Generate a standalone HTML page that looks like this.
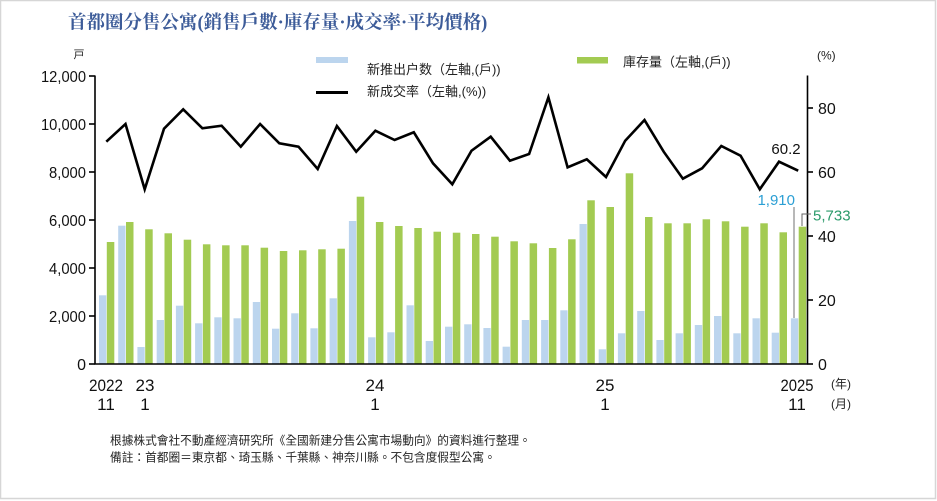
<!DOCTYPE html>
<html><head><meta charset="utf-8"><style>
html,body{margin:0;padding:0;background:#fff;}
body{width:937px;height:501px;overflow:hidden;position:relative;}
svg{position:absolute;left:0;top:0;}
</style></head><body>
<svg width="937" height="501" viewBox="0 0 937 501" xmlns="http://www.w3.org/2000/svg">
<rect x="0.5" y="0.5" width="935" height="498" fill="#fff" stroke="#d6d6d6" stroke-width="1.5"/>
<text x="68" y="28.5" font-family="'Liberation Serif','Noto Serif CJK SC',serif" font-size="18.5" font-weight="bold" fill="#3d5c99">首都圈分售公寓(銷售戶數·庫存量·成交率·平均價格)</text>

<g font-family="'Liberation Sans','Noto Sans CJK TC',sans-serif" font-size="13" fill="#222">
<rect x="316" y="57" width="32" height="6" fill="#bcd5ee"/>
<text x="367" y="74">新推出户数（左軸,(戶))</text>
<line x1="316" y1="92.5" x2="348" y2="92.5" stroke="#000" stroke-width="3"/>
<text x="367" y="96">新成交率（左軸,(%))</text>
<rect x="577" y="57" width="31" height="6.5" fill="#a3cb52"/>
<text x="623" y="66.5">庫存量（左軸,(戶))</text>
<text x="817" y="59.5" font-size="12">(%)</text>
<text x="79" y="58" font-size="11" text-anchor="middle">戸</text>
</g>

<!-- blue bars -->
<g fill="#bcd5ee">
<rect x="99.0" y="295.3" width="7.3" height="68.7"/>
<rect x="118.2" y="225.7" width="7.3" height="138.3"/>
<rect x="137.4" y="347" width="7.3" height="17"/>
<rect x="156.7" y="320" width="7.3" height="44"/>
<rect x="175.9" y="305.7" width="7.3" height="58.3"/>
<rect x="195.1" y="323.3" width="7.3" height="40.7"/>
<rect x="214.3" y="317.3" width="7.3" height="46.7"/>
<rect x="233.5" y="318.3" width="7.3" height="45.7"/>
<rect x="252.8" y="302" width="7.3" height="62"/>
<rect x="272.0" y="328.7" width="7.3" height="35.3"/>
<rect x="291.2" y="313.3" width="7.3" height="50.7"/>
<rect x="310.4" y="328.3" width="7.3" height="35.7"/>
<rect x="329.6" y="298.3" width="7.3" height="65.7"/>
<rect x="348.9" y="221" width="7.3" height="143"/>
<rect x="368.1" y="337.3" width="7.3" height="26.7"/>
<rect x="387.3" y="332.3" width="7.3" height="31.7"/>
<rect x="406.5" y="305.3" width="7.3" height="58.7"/>
<rect x="425.7" y="341" width="7.3" height="23"/>
<rect x="445.0" y="326.7" width="7.3" height="37.3"/>
<rect x="464.2" y="324.3" width="7.3" height="39.7"/>
<rect x="483.4" y="328" width="7.3" height="36"/>
<rect x="502.6" y="346.7" width="7.3" height="17.3"/>
<rect x="521.8" y="320" width="7.3" height="44"/>
<rect x="541.1" y="320" width="7.3" height="44"/>
<rect x="560.3" y="310.3" width="7.3" height="53.7"/>
<rect x="579.5" y="224" width="7.3" height="140"/>
<rect x="598.7" y="349.3" width="7.3" height="14.7"/>
<rect x="617.9" y="333.3" width="7.3" height="30.7"/>
<rect x="637.2" y="311" width="7.3" height="53"/>
<rect x="656.4" y="340" width="7.3" height="24"/>
<rect x="675.6" y="333.3" width="7.3" height="30.7"/>
<rect x="694.8" y="325" width="7.3" height="39"/>
<rect x="714.0" y="316" width="7.3" height="48"/>
<rect x="733.3" y="333.3" width="7.3" height="30.7"/>
<rect x="752.5" y="318.3" width="7.3" height="45.7"/>
<rect x="771.7" y="332.7" width="7.3" height="31.3"/>
<rect x="790.9" y="318.3" width="7.3" height="45.7"/>
</g>
<!-- green bars -->
<g fill="#a3cb52">
<rect x="106.8" y="242" width="7.5" height="122"/>
<rect x="126.0" y="222" width="7.5" height="142"/>
<rect x="145.2" y="229.3" width="7.5" height="134.7"/>
<rect x="164.5" y="233.3" width="7.5" height="130.7"/>
<rect x="183.7" y="239.7" width="7.5" height="124.3"/>
<rect x="202.9" y="244.3" width="7.5" height="119.7"/>
<rect x="222.1" y="245.3" width="7.5" height="118.7"/>
<rect x="241.3" y="245.3" width="7.5" height="118.7"/>
<rect x="260.6" y="247.7" width="7.5" height="116.3"/>
<rect x="279.8" y="251" width="7.5" height="113"/>
<rect x="299.0" y="250.3" width="7.5" height="113.7"/>
<rect x="318.2" y="249.3" width="7.5" height="114.7"/>
<rect x="337.4" y="248.7" width="7.5" height="115.3"/>
<rect x="356.7" y="196.7" width="7.5" height="167.3"/>
<rect x="375.9" y="222" width="7.5" height="142"/>
<rect x="395.1" y="226" width="7.5" height="138"/>
<rect x="414.3" y="228" width="7.5" height="136"/>
<rect x="433.5" y="231.7" width="7.5" height="132.3"/>
<rect x="452.8" y="232.7" width="7.5" height="131.3"/>
<rect x="472.0" y="234" width="7.5" height="130"/>
<rect x="491.2" y="236.7" width="7.5" height="127.3"/>
<rect x="510.4" y="241.3" width="7.5" height="122.7"/>
<rect x="529.6" y="243.3" width="7.5" height="120.7"/>
<rect x="548.9" y="248" width="7.5" height="116"/>
<rect x="568.1" y="239.3" width="7.5" height="124.7"/>
<rect x="587.3" y="200.3" width="7.5" height="163.7"/>
<rect x="606.5" y="207" width="7.5" height="157"/>
<rect x="625.7" y="173.3" width="7.5" height="190.7"/>
<rect x="645.0" y="217" width="7.5" height="147"/>
<rect x="664.2" y="223.3" width="7.5" height="140.7"/>
<rect x="683.4" y="223.3" width="7.5" height="140.7"/>
<rect x="702.6" y="219.3" width="7.5" height="144.7"/>
<rect x="721.8" y="221.3" width="7.5" height="142.7"/>
<rect x="741.1" y="226.7" width="7.5" height="137.3"/>
<rect x="760.3" y="223.3" width="7.5" height="140.7"/>
<rect x="779.5" y="232.3" width="7.5" height="131.7"/>
<rect x="798.7" y="226.7" width="7.5" height="137.3"/>
</g>

<!-- line -->
<polyline fill="none" stroke="#000" stroke-width="2.6" stroke-linejoin="miter" points="106.3,141.7 125.5,124 144.7,189.3 164.0,128.7 183.2,109.3 202.4,128.3 221.6,125.7 240.8,146.7 260.1,124 279.3,143.3 298.5,146.7 317.7,169 336.9,126 356.2,151.7 375.4,130.7 394.6,140 413.8,132.3 433.0,163.3 452.3,184.3 471.5,150.7 490.7,136.7 509.9,160.7 529.1,154 548.4,97.3 567.6,167.3 586.8,159.3 606.0,177 625.2,140.7 644.5,120 663.7,151.7 682.9,178.7 702.1,168.3 721.3,146 740.6,155.7 759.8,189.3 779.0,161.7 798.2,170.7"/>

<!-- axes -->
<g stroke="#000" stroke-width="1.6">
<line x1="95" y1="75.5" x2="95" y2="364.5"/>
<line x1="94.5" y1="364" x2="808" y2="364"/>
<line x1="807.5" y1="75.5" x2="807.5" y2="364.5"/>
<line x1="89" y1="76" x2="95" y2="76"/>
<line x1="89" y1="124" x2="95" y2="124"/>
<line x1="89" y1="172" x2="95" y2="172"/>
<line x1="89" y1="220" x2="95" y2="220"/>
<line x1="89" y1="268" x2="95" y2="268"/>
<line x1="89" y1="316" x2="95" y2="316"/>
<line x1="89" y1="364" x2="95" y2="364"/>
<line x1="807.5" y1="108" x2="813" y2="108"/>
<line x1="807.5" y1="172" x2="813" y2="172"/>
<line x1="807.5" y1="236" x2="813" y2="236"/>
<line x1="807.5" y1="300" x2="813" y2="300"/>
<line x1="807.5" y1="364" x2="813" y2="364"/>
</g>

<g font-family="'Liberation Sans',sans-serif" font-size="16" fill="#111">
<g text-anchor="end">
<text x="86" y="82" textLength="45" lengthAdjust="spacingAndGlyphs">12,000</text>
<text x="86" y="130" textLength="45" lengthAdjust="spacingAndGlyphs">10,000</text>
<text x="86" y="178" textLength="37" lengthAdjust="spacingAndGlyphs">8,000</text>
<text x="86" y="226" textLength="37" lengthAdjust="spacingAndGlyphs">6,000</text>
<text x="86" y="274" textLength="37" lengthAdjust="spacingAndGlyphs">4,000</text>
<text x="86" y="322" textLength="37" lengthAdjust="spacingAndGlyphs">2,000</text>
<text x="86" y="370">0</text>
</g>
<text x="818" y="114">80</text>
<text x="818" y="178">60</text>
<text x="818" y="242">40</text>
<text x="818" y="306">20</text>
<text x="818" y="370">0</text>
<g text-anchor="middle">
<text x="106" y="391" font-size="17" textLength="34" lengthAdjust="spacingAndGlyphs">2022</text>
<text x="106" y="410" font-size="17">11</text>
<text x="145" y="391" font-size="17">23</text>
<text x="145" y="410" font-size="17">1</text>
<text x="375" y="391" font-size="17">24</text>
<text x="375" y="410" font-size="17">1</text>
<text x="605" y="391" font-size="17">25</text>
<text x="605" y="410" font-size="17">1</text>
<text x="797" y="391" font-size="17" textLength="33" lengthAdjust="spacingAndGlyphs">2025</text>
<text x="797" y="410" font-size="17">11</text>
</g>
</g>
<g font-family="'Liberation Sans','Noto Sans CJK TC',sans-serif" font-size="12" fill="#222" text-anchor="middle">
<text x="841" y="388">(年)</text>
<text x="841" y="408">(月)</text>
</g>

<!-- annotations -->
<g font-family="'Liberation Sans',sans-serif" font-size="15">
<text x="786" y="154" text-anchor="middle" fill="#111">60.2</text>
<text x="795" y="205" text-anchor="end" fill="#2b9fd4">1,910</text>
<text x="813" y="220.5" fill="#2a9a6a">5,733</text>
</g>
<line x1="794" y1="207" x2="794" y2="318" stroke="#888" stroke-width="1.2"/>
<polyline points="802,226 802,214 811,214" fill="none" stroke="#666" stroke-width="1"/>

<!-- footnotes -->
<g font-family="'Liberation Sans','Noto Sans CJK TC',sans-serif" font-size="11.7" fill="#222">
<text x="110" y="444.5">根據株式會社不動產經濟研究所《全國新建分售公寓市場動向》的資料進行整理。</text>
<text x="110" y="461.5">備註：首都圈＝東京都、琦玉縣、千葉縣、神奈川縣。不包含度假型公寓。</text>
</g>
</svg>
</body></html>
